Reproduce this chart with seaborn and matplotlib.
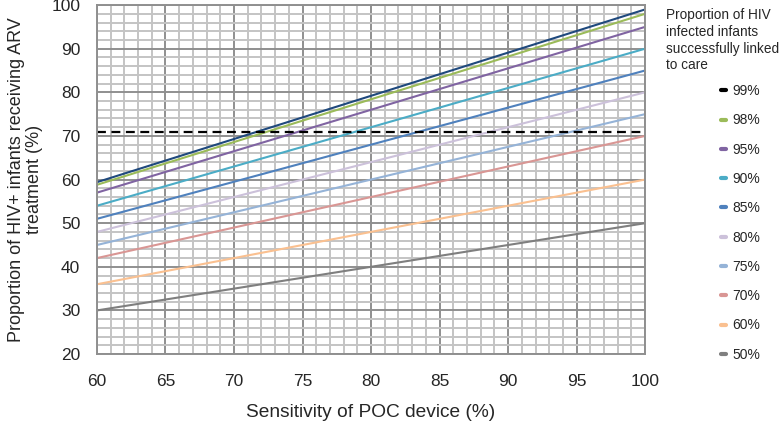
import pandas as pd
import seaborn as sns
import matplotlib.pyplot as plt
from matplotlib.ticker import MultipleLocator
from matplotlib.lines import Line2D

# proportion linked to care, and the value of each line at sensitivity 60 and 100
linkage = ["99%", "98%", "95%", "90%", "85%", "80%", "75%", "70%", "60%", "50%"]
sensitivity = [60, 100]
start_vals = [59.4, 58.8, 57.0, 54.0, 51.0, 48.0, 45.0, 42.0, 36.0, 30.0]
end_vals = [99, 98, 95, 90, 85, 80, 75, 70, 60, 50]
target = 71

colors = ["#1F497D", "#9BBB59", "#8064A2", "#4BACC6", "#4F81BD",
          "#CCC1DA", "#95B3D7", "#D99694", "#FAC090", "#7F7F7F"]

rows = []
for name, a, b in zip(linkage, start_vals, end_vals):
    rows.append({"sens": sensitivity[0], "prop": a, "link": name})
    rows.append({"sens": sensitivity[1], "prop": b, "link": name})
df = pd.DataFrame(rows)

sns.set_style("white")
plt.rcParams['font.family'] = ['Liberation Sans', 'DejaVu Sans']

fig = plt.figure(figsize=(7.82, 4.22), dpi=100)
ax = fig.add_axes([0.124, 0.161, 0.701, 0.827])

ax.set_xlim(60, 100)
ax.set_ylim(20, 100)
ax.xaxis.set_major_locator(MultipleLocator(5))
ax.xaxis.set_minor_locator(MultipleLocator(1))
ax.yaxis.set_major_locator(MultipleLocator(10))
ax.yaxis.set_minor_locator(MultipleLocator(2))
ax.grid(which="minor", color="#c4c4c4", linewidth=1.4)
ax.grid(which="major", color="#8f8f8f", linewidth=1.4)
ax.set_axisbelow(True)
for s in ax.spines.values():
    s.set_color("#8f8f8f")
    s.set_linewidth(1.4)

sns.lineplot(data=df, x="sens", y="prop", hue="link", palette=colors,
             hue_order=linkage, linewidth=1.5, ax=ax, legend=False)
ax.axhline(target, color="black", linestyle=(0, (4, 2.5)), linewidth=1.6)

ax.tick_params(axis="both", which="both", length=0, labelsize=12.5)
ax.tick_params(axis="x", pad=14)
ax.tick_params(axis="y", pad=12)
ax.set_xlabel("Sensitivity of POC device (%)", fontsize=13.8, labelpad=11)
ax.set_ylabel("Proportion of HIV+ infants receiving ARV\ntreatment (%)",
              fontsize=13, labelpad=6, linespacing=1.1)

fig.text(0.852, 0.981, "Proportion of HIV\ninfected infants\nsuccessfully linked\nto care",
         fontsize=9.8, va="top", ha="left", linespacing=1.25)

handles = [Line2D([], [], color=("black" if i == 0 else c), linewidth=3)
           for i, c in enumerate(colors)]
fig.legend(handles, linkage, loc="upper left", bbox_to_anchor=(0.913, 0.817),
           frameon=False, fontsize=10, handlelength=0.4, handletextpad=0.45,
           labelspacing=1.1, borderpad=0)

fig.savefig("out.png", dpi=100)
